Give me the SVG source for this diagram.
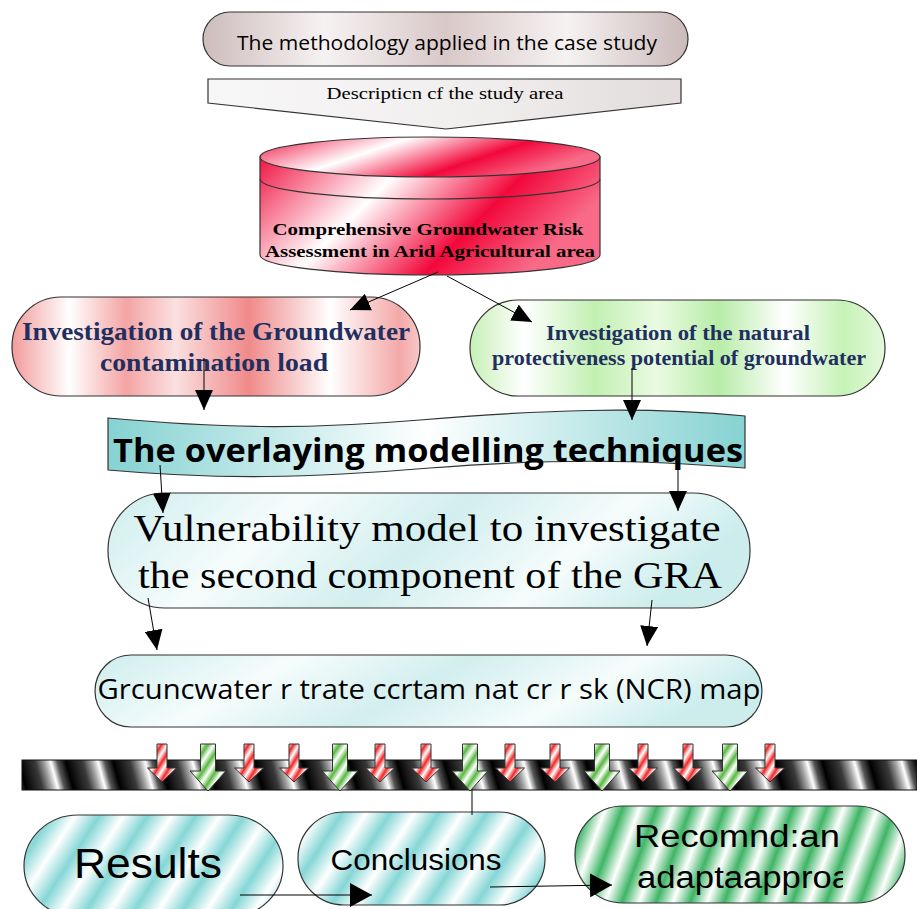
<svg xmlns="http://www.w3.org/2000/svg" width="917" height="909" viewBox="0 0 917 909">
<defs>
<style>
.nd{stroke:#333;stroke-width:1.2}
.cn{stroke:#000;stroke-width:1;fill:none}
.sans{font-family:"Open Sans","DejaVu Sans",sans-serif}
.arial{font-family:"Liberation Sans",Arial,sans-serif}
.serif{font-family:"Liberation Serif","Times New Roman",serif}
.navy{fill:#1f2f5f;font-weight:bold}
</style>
<linearGradient id="gTop" x1="0" y1="0" x2="1" y2="0">
<stop offset="0" stop-color="#cdbcbc"/><stop offset="0.25" stop-color="#f6f2f2"/><stop offset="0.5" stop-color="#d9c8c8"/><stop offset="0.75" stop-color="#f6f2f2"/><stop offset="1" stop-color="#cbbaba"/>
</linearGradient>
<linearGradient id="gDesc" x1="0" y1="0" x2="1" y2="0">
<stop offset="0" stop-color="#f8f7f7"/><stop offset="0.6" stop-color="#f0eded"/><stop offset="1" stop-color="#e2dcdc"/>
</linearGradient>
<linearGradient id="gCyl" x1="0" y1="0" x2="1" y2="0.35">
<stop offset="0" stop-color="#f01442"/><stop offset="0.4" stop-color="#ffffff"/><stop offset="0.74" stop-color="#f2083a"/><stop offset="1" stop-color="#f86a88"/>
</linearGradient>
<linearGradient id="gRed" x1="0" y1="0" x2="1" y2="0">
<stop offset="0" stop-color="#f29a9a"/><stop offset="0.14" stop-color="#ffffff"/><stop offset="0.28" stop-color="#f4a4a4"/><stop offset="0.4" stop-color="#fbe0e0"/><stop offset="0.58" stop-color="#f08a8a"/><stop offset="0.78" stop-color="#ffffff"/><stop offset="0.95" stop-color="#f4a8a8"/><stop offset="1" stop-color="#f8c8c8"/>
</linearGradient>
<linearGradient id="gGreen" x1="0" y1="0" x2="1" y2="0">
<stop offset="0" stop-color="#c6f0b6"/><stop offset="0.13" stop-color="#ffffff"/><stop offset="0.3" stop-color="#c2f0b2"/><stop offset="0.45" stop-color="#eafbe2"/><stop offset="0.6" stop-color="#b8eca8"/><stop offset="0.76" stop-color="#ffffff"/><stop offset="0.9" stop-color="#c6f2b6"/><stop offset="1" stop-color="#e4f9dc"/>
</linearGradient>
<linearGradient id="gBan" x1="0" y1="0" x2="1" y2="0">
<stop offset="0" stop-color="#86d2d2"/><stop offset="0.5" stop-color="#ffffff"/><stop offset="1" stop-color="#86d2d2"/>
</linearGradient>
<linearGradient id="gLt" x1="0" y1="0" x2="1" y2="0.2">
<stop offset="0" stop-color="#cdeded"/><stop offset="0.3" stop-color="#f6fcfc"/><stop offset="0.55" stop-color="#d2eeee"/><stop offset="0.8" stop-color="#f6fcfc"/><stop offset="1" stop-color="#cdeded"/>
</linearGradient>
<linearGradient id="gTeal" gradientUnits="userSpaceOnUse" x1="0" y1="0" x2="34" y2="22" spreadMethod="repeat">
<stop offset="0" stop-color="#86d6d6"/><stop offset="0.5" stop-color="#ffffff"/><stop offset="1" stop-color="#86d6d6"/>
</linearGradient>
<linearGradient id="gGr" gradientUnits="userSpaceOnUse" x1="0" y1="0" x2="30" y2="11" spreadMethod="repeat">
<stop offset="0" stop-color="#3fb566"/><stop offset="0.5" stop-color="#ffffff"/><stop offset="1" stop-color="#3fb566"/>
</linearGradient>
<linearGradient id="gBar" gradientUnits="userSpaceOnUse" x1="0" y1="0" x2="44" y2="-12" spreadMethod="repeat">
<stop offset="0" stop-color="#000"/><stop offset="0.35" stop-color="#3a3a3a"/><stop offset="0.55" stop-color="#a8a8a8"/><stop offset="0.68" stop-color="#ffffff"/><stop offset="0.82" stop-color="#555"/><stop offset="1" stop-color="#000"/>
</linearGradient>
<linearGradient id="gRA" gradientUnits="userSpaceOnUse" x1="0" y1="0" x2="8" y2="5" spreadMethod="repeat">
<stop offset="0" stop-color="#f02828"/><stop offset="0.5" stop-color="#ffffff"/><stop offset="1" stop-color="#f02828"/>
</linearGradient>
<linearGradient id="gGA" gradientUnits="userSpaceOnUse" x1="0" y1="0" x2="9" y2="6" spreadMethod="repeat">
<stop offset="0" stop-color="#58b840"/><stop offset="0.5" stop-color="#ffffff"/><stop offset="1" stop-color="#58b840"/>
</linearGradient>
<path id="ra" d="M-5,0 L5,0 L5,24 L14.5,24 L0,38 L-14.5,24 L-5,24 Z" fill="url(#gRA)" stroke="#333" stroke-width="1"/>
<path id="ga" d="M-7.5,0 L7.5,0 L7.5,27 L18,27 L0,47 L-18,27 L-7.5,27 Z" fill="url(#gGA)" stroke="#333" stroke-width="1"/>
<marker id="ah" markerUnits="userSpaceOnUse" markerWidth="20" markerHeight="18" refX="20" refY="9" orient="auto" viewBox="0 0 20 18">
<path d="M0,0 L20,9 L0,18 Z" fill="#000"/>
</marker>
<marker id="ahb" markerUnits="userSpaceOnUse" markerWidth="22" markerHeight="24" refX="22" refY="12" orient="auto" viewBox="0 0 22 24">
<path d="M0,0 L22,12 L0,24 Z" fill="#000"/>
</marker>
<clipPath id="clipRec"><rect x="575" y="806" width="268" height="97"/></clipPath>
</defs>
<rect width="917" height="909" fill="#fff"/>

<g id="n-top">
<rect class="nd" x="203" y="12" width="485" height="54" rx="27" fill="url(#gTop)"/>
<text class="sans" x="447" y="50" font-size="20" text-anchor="middle" textLength="420" lengthAdjust="spacingAndGlyphs">The methodology applied in the case study</text>
</g>

<g id="n-desc">
<path class="nd" d="M208,79 L681,79 L681,103 L446,129 L208,103 Z" fill="url(#gDesc)"/>
<text class="serif" x="445" y="99" font-size="17" text-anchor="middle" textLength="237" lengthAdjust="spacingAndGlyphs">Descripticn cf the study area</text>
</g>

<g id="n-cyl">
<path class="nd" d="M260,157 L260,255 A170,20 0 0 0 600,255 L600,157 Z" fill="url(#gCyl)"/>
<ellipse class="nd" cx="430" cy="157" rx="170" ry="20" fill="url(#gCyl)"/>
<path class="nd" d="M260,179 A170,20 0 0 0 600,179" fill="none"/>
<text class="serif" x="428" y="235" font-size="17" font-weight="bold" text-anchor="middle" textLength="311" lengthAdjust="spacingAndGlyphs">Comprehensive Groundwater Risk</text>
<text class="serif" x="430" y="257" font-size="17" font-weight="bold" text-anchor="middle" textLength="330" lengthAdjust="spacingAndGlyphs">Assessment in Arid Agricultural area</text>
</g>

<g id="n-load">
<rect class="nd" x="12" y="297" width="408" height="99" rx="49" fill="url(#gRed)"/>
<text class="serif navy" x="216" y="340" font-size="26" text-anchor="middle" textLength="388" lengthAdjust="spacingAndGlyphs">Investigation of the Groundwater</text>
<text class="serif navy" x="214" y="371" font-size="26" text-anchor="middle" textLength="228" lengthAdjust="spacingAndGlyphs">contamination load</text>
</g>

<g id="n-prot">
<rect class="nd" x="470" y="300" width="415" height="96" rx="48" fill="url(#gGreen)"/>
<text class="serif navy" x="678" y="340" font-size="20" text-anchor="middle" textLength="264" lengthAdjust="spacingAndGlyphs">Investigation of  the natural</text>
<text class="serif navy" x="679" y="365" font-size="20" text-anchor="middle" textLength="374" lengthAdjust="spacingAndGlyphs">protectiveness potential of groundwater</text>
</g>

<g id="n-overlay">
<path class="nd" d="M108,418 C220,428 300,430 420,420 C540,410 640,406 745,416 L745,468 C640,460 560,458 430,468 C310,478 220,480 108,470 Z" fill="url(#gBan)"/>
<text class="sans" x="428" y="462" font-size="33" font-weight="bold" text-anchor="middle" textLength="630" lengthAdjust="spacingAndGlyphs">The overlaying modelling techniques</text>
</g>

<g id="n-vuln">
<rect class="nd" x="108" y="493" width="642" height="115" rx="57" fill="url(#gLt)"/>
<text class="serif" x="427" y="541" font-size="38" text-anchor="middle" textLength="587" lengthAdjust="spacingAndGlyphs">Vulnerability model to investigate</text>
<text class="serif" x="430" y="588" font-size="38" text-anchor="middle" textLength="584" lengthAdjust="spacingAndGlyphs">the second component of the GRA</text>
</g>

<g id="n-ncr">
<rect class="nd" x="95" y="655" width="667" height="72" rx="36" fill="url(#gLt)"/>
<text class="sans" x="429" y="699" font-size="28" text-anchor="middle" textLength="663" lengthAdjust="spacingAndGlyphs">Grcuncwater r trate ccrtam nat cr r sk (NCR) map</text>
</g>

<g id="bar">
<rect x="22" y="760" width="895" height="30" fill="url(#gBar)" stroke="#111" stroke-width="1"/>
<use href="#ra" x="162" y="744"/>
<use href="#ga" x="208" y="744"/>
<use href="#ra" x="249" y="744"/>
<use href="#ra" x="294" y="744"/>
<use href="#ga" x="340" y="744"/>
<use href="#ra" x="380" y="744"/>
<use href="#ra" x="426" y="744"/>
<use href="#ga" x="470" y="744"/>
<use href="#ra" x="510" y="744"/>
<use href="#ra" x="555" y="744"/>
<use href="#ga" x="602" y="744"/>
<use href="#ra" x="643" y="744"/>
<use href="#ra" x="688" y="744"/>
<use href="#ga" x="730" y="744"/>
<use href="#ra" x="770" y="744"/>
</g>

<g id="n-results">
<rect class="nd" x="24" y="815" width="259" height="102" rx="54" fill="url(#gTeal)"/>
<text class="arial" x="148" y="878" font-size="42" text-anchor="middle" textLength="148" lengthAdjust="spacingAndGlyphs">Results</text>
</g>

<g id="n-concl">
<rect class="nd" x="298" y="812" width="247" height="93" rx="46" fill="url(#gTeal)"/>
<text class="arial" x="416" y="870" font-size="29" text-anchor="middle" textLength="171" lengthAdjust="spacingAndGlyphs">Conclusions</text>
</g>

<g id="n-recom">
<rect class="nd" x="575" y="806" width="330" height="97" rx="48" fill="url(#gGr)"/>
<g clip-path="url(#clipRec)">
<text class="arial" x="634" y="847" font-size="31" textLength="206" lengthAdjust="spacingAndGlyphs">Recomnd:an</text>
<text class="arial" x="637" y="888" font-size="31" textLength="214" lengthAdjust="spacingAndGlyphs">adaptaapproa</text>
</g>
</g>

<g id="connectors">
<line class="cn" x1="438" y1="272" x2="350" y2="310" marker-end="url(#ah)"/>
<line class="cn" x1="447" y1="276" x2="532" y2="322" marker-end="url(#ah)"/>
<line class="cn" x1="204" y1="358" x2="204" y2="410" marker-end="url(#ah)"/>
<line class="cn" x1="632" y1="368" x2="632" y2="420" marker-end="url(#ah)"/>
<line class="cn" x1="160" y1="465" x2="163" y2="513" marker-end="url(#ah)"/>
<line class="cn" x1="678" y1="470" x2="678" y2="511" marker-end="url(#ah)"/>
<line class="cn" x1="148" y1="598" x2="157" y2="650" marker-end="url(#ah)"/>
<line class="cn" x1="652" y1="600" x2="647" y2="646" marker-end="url(#ah)"/>
<line class="cn" x1="472" y1="790" x2="472" y2="815" stroke-width="2"/>
<line class="cn" x1="240" y1="895" x2="372" y2="895" stroke-width="3" marker-end="url(#ahb)"/>
<line class="cn" x1="490" y1="887" x2="612" y2="885" stroke-width="3" marker-end="url(#ahb)"/>
</g>
</svg>
